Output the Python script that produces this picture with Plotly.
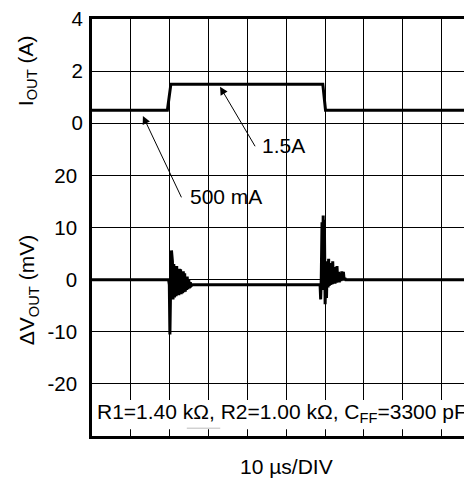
import plotly.graph_objects as go

# ---- data (time in µs, 10 µs/DIV) ----
i_time = [0, 19.4, 20.3, 59.4, 60.1, 100]
i_out = [0.5, 0.5, 1.5, 1.5, 0.5, 0.5]

v_time = [0, 19.7, 19.9, 20.05, 20.2, 20.45, 20.7, 20.85, 21.05, 21.25, 21.45, 21.65,
          21.8, 21.95, 22.15, 22.35, 22.5, 22.65, 22.8, 22.95, 23.15, 23.3, 23.5, 23.65,
          23.85, 24.0, 24.2, 24.35, 24.5, 24.7, 24.9, 25.1, 25.3, 25.5, 25.8,
          58.7, 58.85, 59.0, 59.2, 59.35, 59.5, 59.65, 59.8, 60.0, 60.2, 60.35, 60.55,
          60.75, 60.9, 61.05, 61.25, 61.45, 61.65, 61.85, 61.95, 62.15, 62.35, 62.55,
          62.75, 62.95, 63.05, 63.25, 63.45, 63.65, 63.85, 64.05, 64.3, 64.5, 64.7,
          64.9, 65.1, 65.3, 100]
v_out = [0, 0, -1, -10.5, -3, 5.6, 3.5, -3.8, 3.0, -3.4, 2.6, -3.2,
         2.6, -3.0, 1.8, -3.0, 2.1, -2.8, 2.0, -2.8, 1.2, -2.6, 1.6, -2.4,
         1.2, -2.3, 0.4, -2.0, 0.6, -1.8, 0.0, -1.6, -0.5, -1.2, -1.0,
         -1.0, -3.8, 0, 11, -2, 12.3, 0, 11.5, -4.7, 2, -3.5, 3.5,
         -1.5, 4.0, -1.2, 3.2, -1.0, 3.0, -0.9, 3.5, -0.8, 2.2, -0.8,
         2.4, -0.6, 2.6, -0.5, 1.5, -0.5, 1.0, -0.3, 1.6, -0.2, 1.5,
         -0.1, 0.3, 0, 0]

mv_ticks = [-20, -10, 0, 10, 20]
mv_labels = ["-20", "-10", "0", "10", "20"]
a_ticks = [0, 2, 4]
a_labels = ["0", "2", "4"]

FONT = "Arial, Liberation Sans, sans-serif"
TXT = 21

fig = go.Figure()
fig.add_trace(go.Scatter(x=v_time, y=v_out, mode="lines",
                         line=dict(color="black", width=3), yaxis="y", showlegend=False))
fig.add_trace(go.Scatter(x=i_time, y=i_out, mode="lines",
                         line=dict(color="black", width=3), yaxis="y2", showlegend=False))

fig.update_layout(
    width=464, height=470,
    margin=dict(l=84, r=0, t=11, b=42),
    paper_bgcolor="white", plot_bgcolor="white",
    font=dict(family=FONT, size=20.5, color="black"),
    xaxis=dict(range=[0, 97.8], dtick=10, tick0=0, showticklabels=False,
               showgrid=True, gridcolor="black", gridwidth=1.3,
               showline=True, linecolor="black", linewidth=2.5, mirror=True,
               zeroline=False, ticks=""),
    yaxis=dict(range=[-30, 50], tickvals=mv_ticks, ticktext=mv_labels,
               showgrid=True, gridcolor="black", gridwidth=1.3,
               showline=True, linecolor="black", linewidth=2.5,
               zeroline=False, ticks="", ticklabelstandoff=8,
               ticklabeloverflow="allow"),
    yaxis2=dict(range=[-12, 4], tickvals=a_ticks, ticktext=a_labels,
                overlaying="y", side="left", anchor="x",
                showgrid=True, gridcolor="black", gridwidth=1.3,
                zeroline=False, showline=False,
                ticks="", ticklabelstandoff=8, ticklabeloverflow="allow"),
)

# white label box over the bottom division
fig.add_shape(type="rect", xref="x", yref="y", x0=0.4, x1=100, y0=-28.7, y1=-23.1,
              fillcolor="white", line=dict(width=0), layer="above")
fig.add_shape(type="line", xref="x", yref="y", x0=24.4, x1=33.0, y0=-28.5, y1=-28.5,
              line=dict(color="#bbbbbb", width=1), layer="above")

anns = [
    dict(text="R1=1.40 kΩ, R2=1.00 kΩ, C<sub>FF</sub>=3300 pF", x=0.75, y=-25.6,
         xref="x", yref="y", xanchor="left", yanchor="middle", showarrow=False,
         font=dict(size=TXT)),
    dict(text="1.5A", x=43.2, y=25.8, xref="x", yref="y", xanchor="left",
         yanchor="middle", showarrow=False, font=dict(size=TXT)),
    dict(text="500 mA", x=24.7, y=15.9, xref="x", yref="y", xanchor="left",
         yanchor="middle", showarrow=False, font=dict(size=TXT)),
    dict(text="", x=32.95, y=37.0, ax=42.2, ay=25.3, xref="x", yref="y",
         axref="x", ayref="y", showarrow=True, arrowhead=2, arrowsize=1.6,
         arrowwidth=1, arrowcolor="black"),
    dict(text="", x=13.1, y=31.4, ax=23.2, ay=15.5, xref="x", yref="y",
         axref="x", ayref="y", showarrow=True, arrowhead=2, arrowsize=1.6,
         arrowwidth=1, arrowcolor="black"),
    dict(text="10 µs/DIV", x=50, y=-0.0743, xref="x", yref="paper",
         xanchor="center", yanchor="middle", showarrow=False, font=dict(size=TXT)),
    dict(text="I<sub>OUT</sub> (A)", x=-0.171, y=0.875, xref="paper", yref="paper",
         textangle=-90, xanchor="center", yanchor="middle", showarrow=False,
         font=dict(size=TXT)),
    dict(text="ΔV<sub>OUT</sub> (mV)", x=-0.168, y=0.35, xref="paper", yref="paper",
         textangle=-90, xanchor="center", yanchor="middle", showarrow=False,
         font=dict(size=TXT)),
]
fig.update_layout(annotations=anns)

fig.write_html("out.html")
